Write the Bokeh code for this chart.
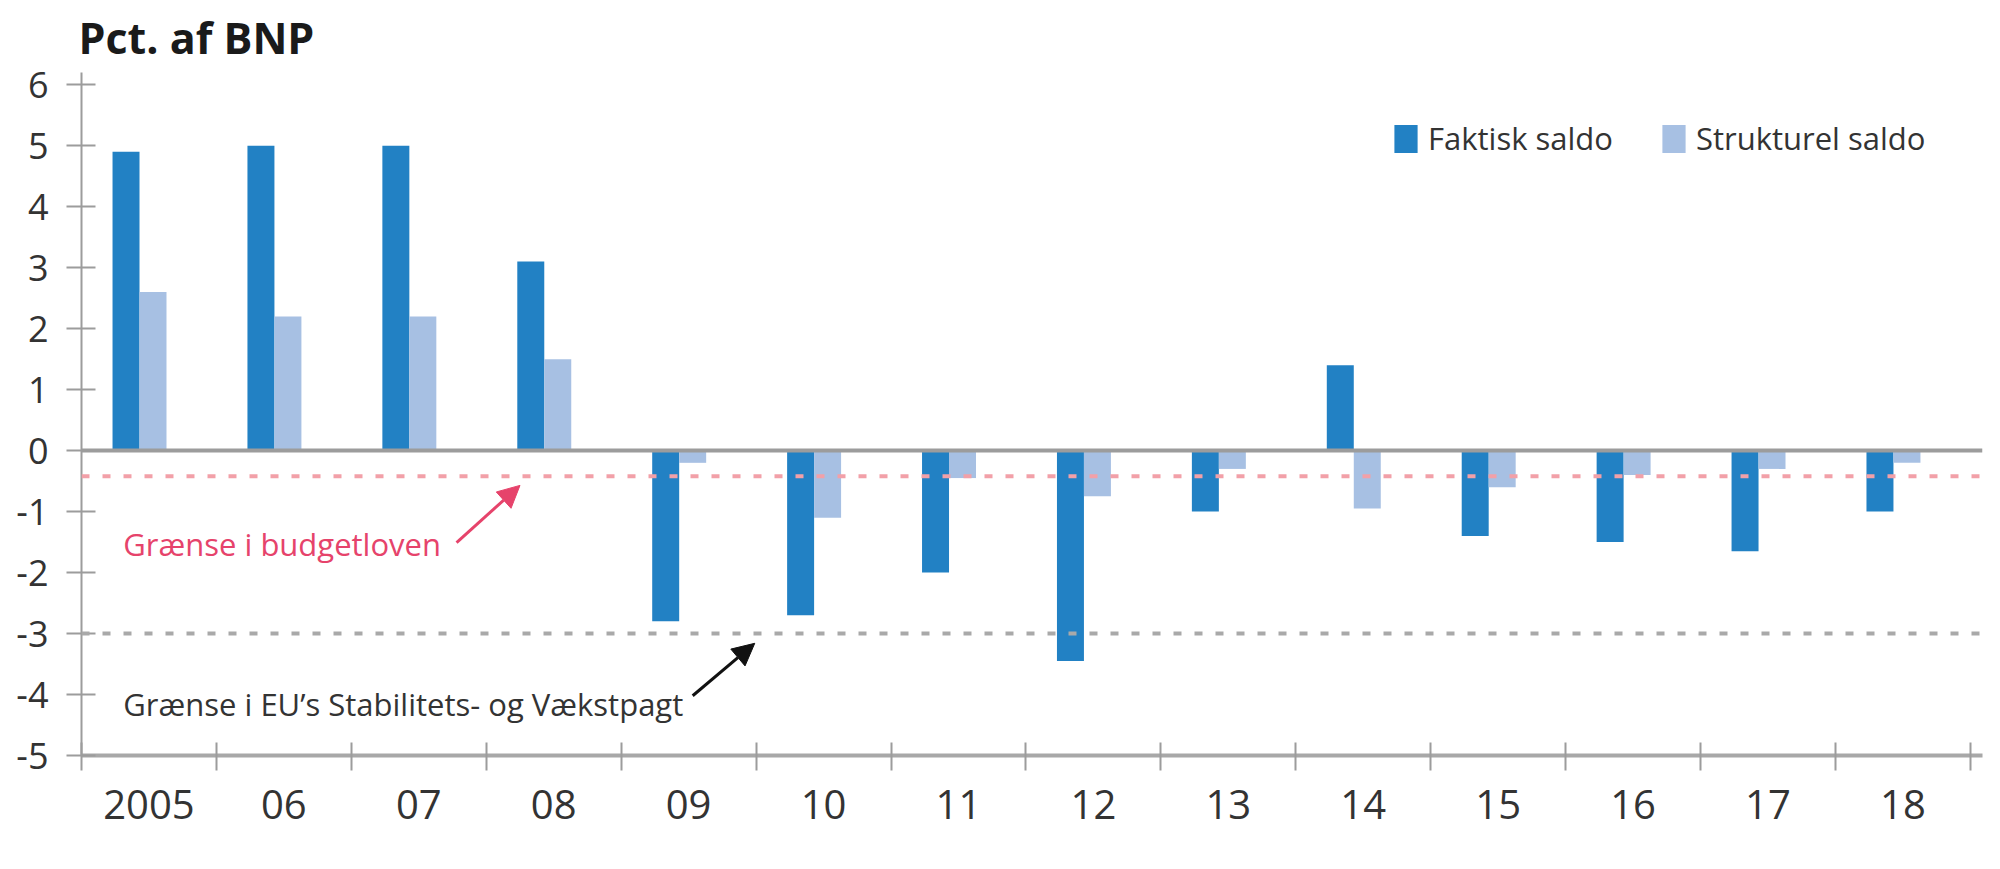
from bokeh.plotting import figure
from bokeh.models import (Range1d, FixedTicker, Span, Label, Legend, LegendItem,
                          Arrow, NormalHead, ColumnDataSource)
from bokeh.embed import file_html
from bokeh.resources import INLINE

# ---- data ----
years = ["2005", "06", "07", "08", "09", "10", "11", "12", "13", "14", "15", "16", "17", "18"]
faktisk = [4.9, 5.0, 5.0, 3.1, -2.8, -2.7, -2.0, -3.45, -1.0, 1.4, -1.4, -1.5, -1.65, -1.0]
strukturel = [2.6, 2.2, 2.2, 1.5, -0.2, -1.1, -0.45, -0.75, -0.3, -0.95, -0.6, -0.4, -0.3, -0.2]
y_ticks = [-5, -4, -3, -2, -1, 0, 1, 2, 3, 4, 5, 6]
budget_limit = -0.42
eu_limit = -3.0
title_text = "Pct. af BNP"
label_budget = "Grænse i budgetloven"
label_eu = "Grænse i EU\u2019s Stabilitets- og Vækstpagt"

FONT = "Open Sans"
DARK = "#2281c4"
LIGHT = "#a7c0e3"
RED = "#e6436b"
TXT = "#333333"

idx = list(range(len(years)))
src = ColumnDataSource(dict(
    xd=[i - 0.17 for i in idx],
    xl=[i + 0.03 for i in idx],
    faktisk=faktisk,
    strukturel=strukturel,
))

W, H = 1984, 853
TOP = 5
FRAME_H = 750
p = figure(width=W, height=H, output_backend="svg", toolbar_location=None,
           x_range=Range1d(-0.5, 13.59), y_range=Range1d(-5, 7.3),
           min_border_left=81, min_border_right=2, min_border_top=TOP,
           min_border_bottom=H - TOP - FRAME_H)
p.outline_line_color = None
p.xgrid.visible = False
p.ygrid.visible = False
p.background_fill_color = "white"

r1 = p.vbar(x="xd", top="faktisk", bottom=0, width=0.2, source=src,
            fill_color=DARK, line_color=None)
r2 = p.vbar(x="xl", top="strukturel", bottom=0, width=0.2, source=src,
            fill_color=LIGHT, line_color=None)

# reference lines
p.add_layout(Span(location=0, dimension="width", line_color="#9c9c9c", line_width=4))
p.add_layout(Span(location=budget_limit, dimension="width", line_color="#f2a0a8",
                  line_width=4, line_dash="8 13"))
p.add_layout(Span(location=eu_limit, dimension="width", line_color="#a9a9a9",
                  line_width=4, line_dash="8 13"))

# axes
ya = p.yaxis[0]
ya.ticker = FixedTicker(ticks=y_ticks, minor_ticks=[])
ya.major_label_overrides = {t: str(t) for t in y_ticks}
ya.bounds = (-5, 6.2)
ya.axis_line_color = "#9c9c9c"
ya.axis_line_width = 2
ya.major_tick_line_color = "#9c9c9c"
ya.major_tick_line_width = 2
ya.major_tick_in = 14
ya.major_tick_out = 15
ya.minor_tick_line_color = None
ya.major_label_standoff = 18
ya.major_label_text_font = FONT
ya.major_label_text_font_size = "36px"
ya.major_label_text_color = TXT

xa = p.xaxis[0]
xa.ticker = FixedTicker(ticks=idx, minor_ticks=[i - 0.5 for i in range(len(years) + 1)])
xa.major_label_overrides = {i: years[i] for i in idx}
xa.axis_line_color = "#a8a8a8"
xa.axis_line_width = 4
xa.major_tick_line_color = None
xa.major_tick_in = 0
xa.major_tick_out = 0
xa.minor_tick_line_color = "#9c9c9c"
xa.minor_tick_line_width = 2
xa.minor_tick_in = 13
xa.minor_tick_out = 15
xa.major_label_standoff = 19
xa.major_label_text_font = FONT
xa.major_label_text_font_size = "40px"
xa.major_label_text_color = TXT

# title
p.add_layout(Label(x=-0.5, y=6.77, x_offset=-3, text=title_text, text_font=FONT,
                   text_font_style="bold", text_font_size="43px", text_color="#1a1a1a",
                   text_baseline="alphabetic"))

# annotations
p.add_layout(Label(x=-0.19, y=-1.53, text=label_budget, text_font=FONT,
                   text_font_size="31px", text_color=RED, text_baseline="alphabetic"))
p.add_layout(Label(x=-0.19, y=-4.15, text=label_eu, text_font=FONT,
                   text_font_size="31px", text_color=TXT, text_baseline="alphabetic"))
p.add_layout(Arrow(x_start=2.28, y_start=-1.51, x_end=2.75, y_end=-0.57,
                   line_color=RED, line_width=3,
                   end=NormalHead(size=22, fill_color=RED, line_color=RED)))
p.add_layout(Arrow(x_start=4.03, y_start=-4.02, x_end=4.49, y_end=-3.16,
                   line_color="#111111", line_width=3,
                   end=NormalHead(size=22, fill_color="#111111", line_color="#111111")))

# legend
legend = Legend(items=[LegendItem(label="Faktisk saldo", renderers=[r1]),
                       LegendItem(label="Strukturel saldo", renderers=[r2])],
                location=(1310, 596), orientation="horizontal",
                glyph_width=29, glyph_height=35, label_height=35, label_standoff=8,
                spacing=46, padding=0, margin=0,
                border_line_color=None, background_fill_alpha=0,
                label_text_font=FONT, label_text_font_size="31px",
                label_text_color=TXT)
p.add_layout(legend)

open("out.html", "w").write(file_html(p, INLINE))
